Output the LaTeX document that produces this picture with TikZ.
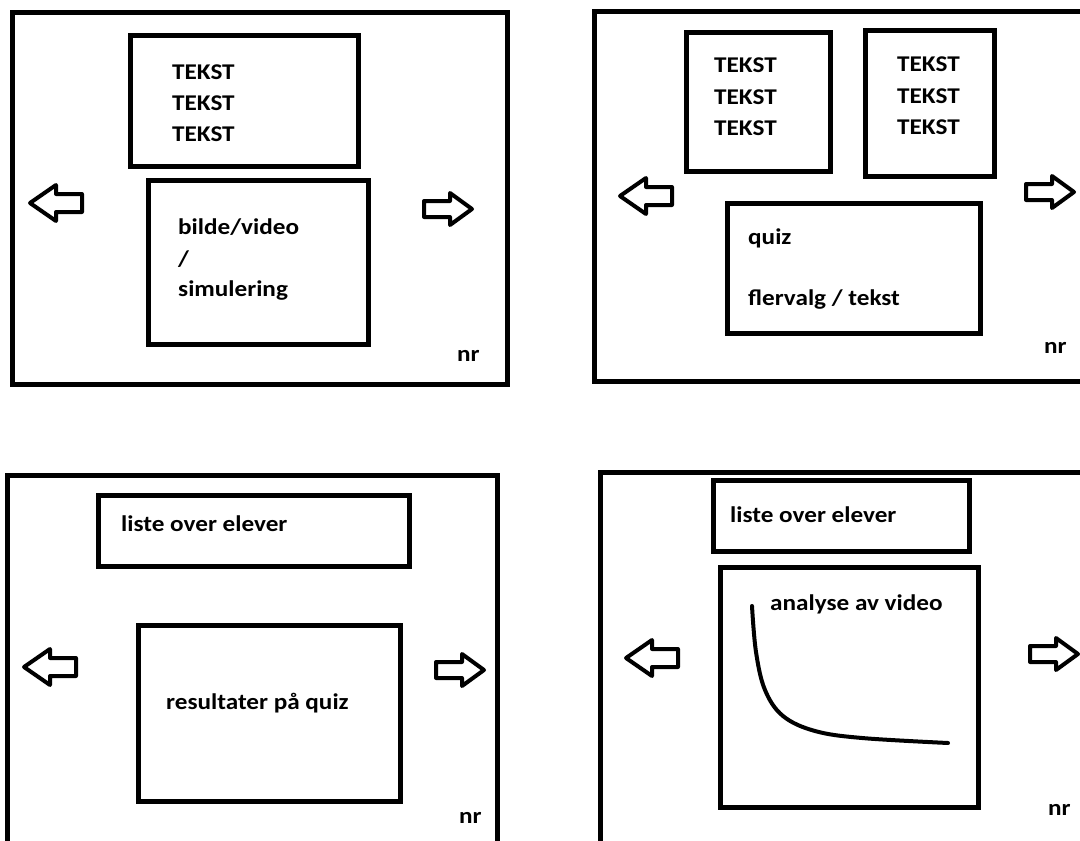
\documentclass[tikz,border=0pt]{standalone}
\usepackage{fontspec}
\setmainfont{Carlito}[FakeStretch=1.12]
\begin{document}
\begin{tikzpicture}[x=1pt,y=-1pt,
  frame/.style={draw=black,line width=5pt,line join=miter},
  box/.style={draw=black,line width=5pt,inner sep=0pt},
  lbl/.style={anchor=west,inner sep=0pt,font=\fontsize{22.5}{26}\selectfont\bfseries,align=left},
  arrowline/.style={draw=black,line width=4pt,line join=round},
  larrow/.pic={\draw[arrowline] (-26,0) -- (0,-18) -- (0,-9) -- (26,-9) -- (26,9) -- (0,9) -- (0,18) -- cycle;},
  rarrow/.pic={\draw[arrowline] (24,0) -- (2,-16) -- (2,-8) -- (-24,-8) -- (-24,8) -- (2,8) -- (2,16) -- cycle;}
]
\useasboundingbox (0,0) rectangle (1080,841);
\fill[white] (0,0) rectangle (1080,841);

% ---------- Panel 1 ----------
\draw[frame] (12,12) rectangle (507,384);
\node[box,minimum width=228pt,minimum height=131pt] (p1top) at (244,100.5) {};
\node[lbl] (p1t1) at (172,72) {TEKST};
\node[lbl] (p1t2) at (172,103) {TEKST};
\node[lbl] (p1t3) at (172,134) {TEKST};
\node[box,minimum width=220pt,minimum height=164pt] (p1media) at (258,262) {};
\node[lbl] (p1m1) at (178,227) {bilde/video};
\node[lbl] (p1m2) at (178,259) {/};
\node[lbl] (p1m3) at (178,291) {simulering};
\pic at (56,203) {larrow};
\pic at (448,209) {rarrow};
\node[lbl] (p1nr) at (457,356) {nr};

% ---------- Panel 2 ----------
\draw[frame] (594,11) rectangle (1095,381);
\node[box,minimum width=144pt,minimum height=139pt] (p2a) at (758,101.5) {};
\node[lbl] (p2a1) at (714,65) {TEKST};
\node[lbl] (p2a2) at (714,97) {TEKST};
\node[lbl] (p2a3) at (714,128) {TEKST};
\node[box,minimum width=129pt,minimum height=146pt] (p2b) at (929.5,103) {};
\node[lbl] (p2b1) at (897,64) {TEKST};
\node[lbl] (p2b2) at (897,96) {TEKST};
\node[lbl] (p2b3) at (897,127) {TEKST};
\node[box,minimum width=253pt,minimum height=130pt] (p2quiz) at (853.5,268) {};
\node[lbl] (p2q1) at (748,238) {quiz};
\node[lbl] (p2q2) at (748,300) {flervalg / tekst};
\pic at (646,196) {larrow};
\pic at (1050,192) {rarrow};
\node[lbl] (p2nr) at (1044,348) {nr};

% ---------- Panel 3 ----------
\draw[frame] (7,475) rectangle (497,860);
\node[box,minimum width=311pt,minimum height=71pt] (p3list) at (253.5,530.5) {};
\node[lbl] (p3l) at (121,524) {liste over elever};
\node[box,minimum width=262pt,minimum height=176pt] (p3res) at (269,713) {};
\node[lbl] (p3r) at (166,703) {resultater på quiz};
\pic at (50,667) {larrow};
\pic at (460,670) {rarrow};
\node[lbl] (p3nr) at (459,818) {nr};

% ---------- Panel 4 ----------
\draw[frame] (600,472) rectangle (1095,860);
\node[box,minimum width=256pt,minimum height=71pt] (p4list) at (841,515.5) {};
\node[lbl] (p4l) at (730,515) {liste over elever};
\node[box,minimum width=258pt,minimum height=240pt] (p4graph) at (849,687) {};
\node[lbl] (p4a) at (770,604) {analyse av video};
\draw[line width=4pt,line cap=round] plot[smooth,tension=0.6] coordinates {(752,606) (756,652) (765,690) (783,716) (815,731) (862,738) (948,743)};
\pic at (652,658) {larrow};
\pic at (1054,654) {rarrow};
\node[lbl] (p4nr) at (1048,810) {nr};
\end{tikzpicture}
\end{document}
